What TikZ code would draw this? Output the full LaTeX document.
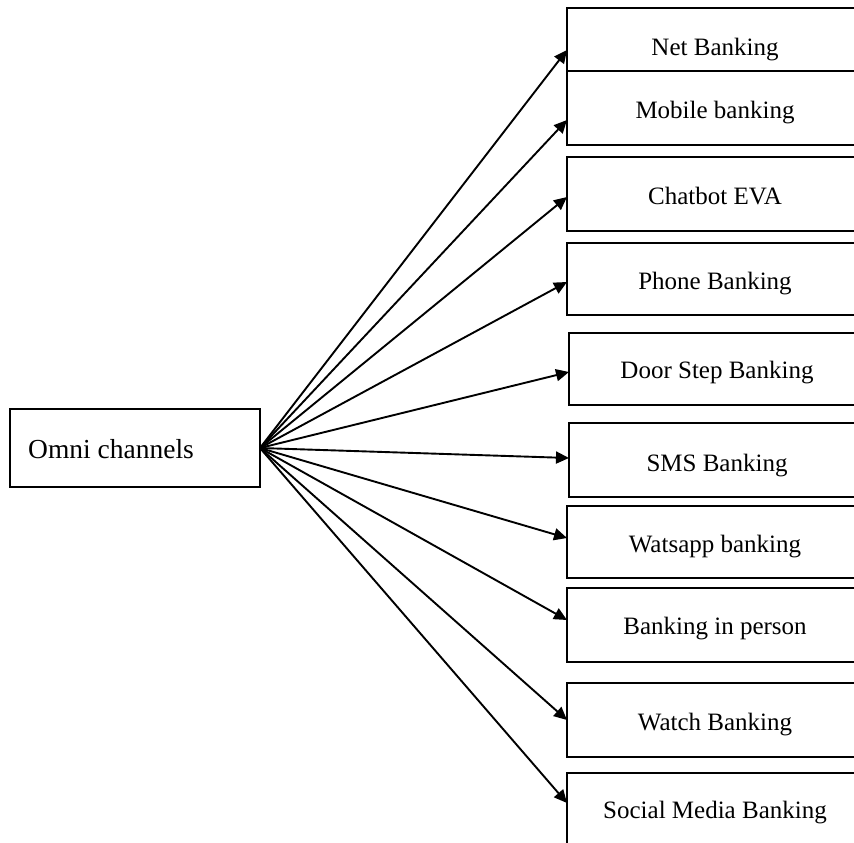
\documentclass[tikz,border=0pt]{standalone}
\usepackage{fontspec}
\setmainfont{Liberation Serif}
\usetikzlibrary{arrows.meta}
\begin{document}
\begin{tikzpicture}[x=1pt,y=-1pt,
  box/.style={draw=black,line width=1.8pt,inner sep=0pt,outer sep=0pt,minimum width=296pt},
  lbl/.style={anchor=base,inner sep=0pt,font=\fontsize{25}{28}\selectfont},
  arr/.style={line width=1.9pt,-{Triangle[length=13pt,width=12pt]}}]
\useasboundingbox (0,0) rectangle (854,843);
\fill[white] (0,0) rectangle (854,843);
% source box
\node[box,minimum width=250pt,minimum height=78pt] (omni) at (135,448) {};
\node[lbl,anchor=base west,font=\fontsize{27.5}{30}\selectfont] (omnit) at (28,458) {Omni channels};
% target boxes
\node[box,minimum height=63pt] (b1) at (715,39.5) {};
\node[box,minimum height=74pt] (b2) at (715,108) {};
\node[box,minimum height=74pt] (b3) at (715,194) {};
\node[box,minimum height=72pt] (b4) at (715,279) {};
\node[box,minimum height=72pt] (b5) at (717,369) {};
\node[box,minimum height=74pt] (b6) at (717,460) {};
\node[box,minimum height=72pt] (b7) at (715,542) {};
\node[box,minimum height=74pt] (b8) at (715,625) {};
\node[box,minimum height=74pt] (b9) at (715,720) {};
\node[box,minimum height=77pt] (b10) at (715,811.5) {};
% labels
\node[lbl] (t1) at (715,56) {Net Banking};
\node[lbl] (t2) at (715,118) {Mobile banking};
\node[lbl] (t3) at (715,204) {Chatbot EVA};
\node[lbl] (t4) at (715,289) {Phone Banking};
\node[lbl] (t5) at (717,378) {Door Step Banking};
\node[lbl] (t6) at (717,471) {SMS Banking};
\node[lbl] (t7) at (715,552) {Watsapp banking};
\node[lbl] (t8) at (715,634) {Banking in person};
\node[lbl] (t9) at (715,730) {Watch Banking};
\node[lbl] (t10) at (715,818) {Social Media Banking};
% arrows
\draw[arr] (omni.east) -- ([yshift=-10.5pt]b1.west);
\draw[arr] (omni.east) -- ([yshift=-12pt]b2.west);
\draw[arr] (omni.east) -- ([yshift=-3pt]b3.west);
\draw[arr] (omni.east) -- ([yshift=-3pt]b4.west);
\draw[arr] (omni.east) -- ([yshift=-3pt]b5.west);
\draw[arr] (omni.east) -- ([yshift=2pt]b6.west);
\draw[arr] (omni.east) -- ([yshift=4pt]b7.west);
\draw[arr] (omni.east) -- ([yshift=5pt]b8.west);
\draw[arr] (omni.east) -- (b9.west);
\draw[arr] (omni.east) -- ([yshift=8.5pt]b10.west);
\end{tikzpicture}
\end{document}
